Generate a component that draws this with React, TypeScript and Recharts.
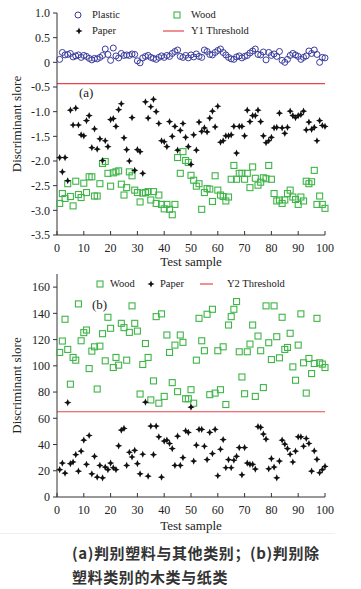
import React from 'react';
import { ScatterChart, Scatter, XAxis, YAxis, ReferenceLine, Legend } from 'recharts';

// test sample index (1..100)
const samples = [
  1, 2, 3, 4, 5, 6, 7, 8, 9, 10, 11, 12, 13, 14, 15, 16, 17, 18, 19, 20,
  21, 22, 23, 24, 25, 26, 27, 28, 29, 30, 31, 32, 33, 34, 35, 36, 37, 38, 39, 40,
  41, 42, 43, 44, 45, 46, 47, 48, 49, 50, 51, 52, 53, 54, 55, 56, 57, 58, 59, 60,
  61, 62, 63, 64, 65, 66, 67, 68, 69, 70, 71, 72, 73, 74, 75, 76, 77, 78, 79, 80,
  81, 82, 83, 84, 85, 86, 87, 88, 89, 90, 91, 92, 93, 94, 95, 96, 97, 98, 99, 100,
];

// (a) Y1 scores
const plasticY1 = [
  0.06, 0.2, 0.15, 0.16, 0.18, 0.11, 0.13, 0.15, 0.1, 0.14, 0.12, 0.08, 0.05, 0.08, 0.07, 0.1, 0.14, 0.27, 0.16, 0.04,
  0.29, 0.13, 0.09, 0.18, 0.14, 0.15, 0.14, 0.17, 0.16, 0.03, -0.01, 0.09, 0.12, 0.14, 0.1, 0.08, 0.06, 0.1, 0.13, 0.1,
  0.14, 0.12, 0.18, 0.22, 0.25, 0.12, 0.1, 0.14, 0.09, 0.15, 0.11, 0.17, 0.12, 0.1, 0.25, 0.22, 0.16, 0.15, 0.2, 0.24,
  0.27, 0.2, 0.15, 0.1, 0.07, 0.06, 0.11, 0.13, 0.09, 0.12, 0.14, 0.19, 0.23, 0.27, 0.16, 0.15, 0.21, 0.05, 0.2, 0.14,
  0.17, 0.12, 0.22, 0.04, 0.0, 0.06, 0.14, 0.18, 0.15, 0.12, 0.06, 0.1, 0.13, 0.23, 0.18, 0.25, 0.16, 0.0, 0.1, 0.09,
];
const paperY1 = [
  -1.93, -2.22, -1.93, -2.4, -0.97, -1.27, -0.93, -1.27, -1.47, -1.49, -1.18, -1.08, -1.73, -1.35, -1.76, -1.55, -1.99, -1.59, -1.71, -1.16,
  -1.14, -1.3, -0.96, -0.84, -1.53, -1.77, -2.0, -1.12, -2.19, -1.77, -1.81, -2.25, -0.8, -1.13, -0.9, -0.75, -1.0, -1.24, -1.59, -1.61,
  -1.71, -1.2, -1.5, -1.3, -1.78, -1.38, -1.24, -1.52, -1.71, -2.07, -1.47, -1.78, -1.21, -1.4, -1.33, -1.41, -1.13, -0.99, -1.31, -0.89,
  -1.62, -1.59, -1.49, -1.49, -1.47, -1.3, -1.84, -1.3, -1.3, -1.49, -0.97, -1.2, -1.08, -1.08, -0.97, -1.2, -1.49, -1.63, -1.59, -1.52,
  -1.33, -1.32, -1.03, -1.33, -1.44, -1.32, -0.99, -1.08, -1.12, -1.08, -1.06, -0.99, -1.37, -1.21, -1.36, -1.32, -1.59, -1.18, -1.28, -1.3,
];
const woodY1 = [
  -2.86, -2.66, -2.76, -2.46, -2.72, -2.91, -2.41, -2.68, -2.74, -2.45, -2.64, -2.32, -2.32, -2.71, -2.71, -2.46, -2.05, -2.01, -2.25, -2.51,
  -2.24, -2.22, -2.2, -2.47, -2.69, -2.54, -2.22, -2.3, -2.59, -2.64, -2.83, -2.65, -2.64, -2.62, -2.79, -2.62, -2.86, -2.69, -2.88, -2.97,
  -2.88, -2.98, -3.09, -2.88, -1.93, -2.25, -1.81, -1.99, -2.03, -2.29, -2.39, -2.51, -2.46, -2.98, -2.64, -2.56, -2.57, -2.82, -2.3, -2.59,
  -2.69, -2.72, -2.81, -2.73, -2.37, -2.09, -2.37, -2.25, -2.25, -2.37, -2.25, -2.54, -2.12, -2.35, -2.49, -2.43, -2.34, -2.36, -2.09, -2.37,
  -2.66, -2.81, -2.79, -2.86, -2.79, -2.66, -2.59, -2.73, -2.78, -2.88, -2.73, -2.81, -2.41, -2.46, -2.42, -2.19, -2.88, -2.71, -2.88, -2.96,
];

// (b) Y2 scores
const woodY2 = [
  110.2, 118.9, 135.5, 112.5, 86, 106.4, 104.3, 147.2, 119.1, 125.3, 127.3, 97.9, 111.2, 114.5, 82.3, 115, 124.5, 103.8, 137, 128.6,
  98.7, 106.4, 100.5, 132.4, 129.1, 104.3, 125.5, 145.7, 132.4, 126.5, 78.5, 101, 117, 106.4, 74, 88.5, 137.5, 71.5, 139.6, 76.7,
  123.5, 110.2, 87.2, 115.8, 80.3, 123.5, 117.9, 74.9, 74.9, 81.8, 71.5, 104.3, 136.2, 119.1, 111.5, 139.3, 78, 143.1, 79.2, 111.5,
  81.8, 114.5, 70.5, 131.1, 137.5, 143.1, 149, 110.7, 91.5, 78.7, 110.7, 116.6, 131.1, 76.7, 122.7, 111.5, 83.4, 145.7, 117.6, 104.8,
  145.7, 122.2, 106.1, 137, 112.5, 114, 124.8, 99.2, 89, 115.8, 139.6, 102.3, 79.2, 105.6, 94.1, 101.8, 136.2, 102.3, 101.3, 98.7,
];
const paperY2 = [
  20.8, 25.9, 18.2, 72, 25.4, 26.7, 32.3, 19.7, 34.9, 43.3, 24.9, 46.9, 17.7, 31, 15.1, 24.1, 14.6, 22.8, 20.8, 25.9,
  22.3, 20.8, 39, 51, 52.3, 24.1, 34.1, 30.5, 35.6, 25.4, 17.7, 32.6, 72.3, 15.9, 54.1, 32.3, 54.1, 45.9, 15.1, 42.6,
  43.3, 40.8, 36.9, 24.1, 46.4, 24.1, 30, 50.5, 49.2, 68.5, 27.4, 39.5, 51.5, 51.5, 38.7, 28.5, 49.2, 33.1, 51.5, 16.2,
  36.4, 43.8, 22.3, 28.5, 22.3, 28, 31, 37.7, 16.9, 37.7, 25.9, 24.9, 24.9, 21.3, 53.6, 53.1, 48, 44.1, 21.5, 29.2,
  22.8, 14.6, 27.4, 43.3, 40.3, 36.9, 32.6, 26.7, 34.9, 45.9, 45.9, 38.7, 44.6, 40.8, 19.7, 35.1, 28.7, 18.5, 20.8, 23.3,
];

const xTicks = [0, 10, 20, 30, 40, 50, 60, 70, 80, 90, 100];
const yTicksA = [-3.5, -3, -2.5, -2, -1.5, -1, -0.5, 0, 0.5, 1];
const yTicksB = [0, 20, 40, 60, 80, 100, 120, 140, 160];
const thresholdY1 = -0.43;
const thresholdY2 = 65;

const BLUE = '#3a3c9c';
const GREEN = '#3fb548';
const RED = '#e8464b';
const INK = '#222';
const SERIF = '"Liberation Serif", "Times New Roman", serif';

const toPoints = (ys: number[]) => samples.map((x, i) => ({ x, y: ys[i] }));

const CircleMark = (p: any) => <circle cx={p.cx} cy={p.cy} r={3} fill="none" stroke={BLUE} strokeWidth={1} />;
const SquareMark = (p: any) => (
  <rect x={p.cx - 3} y={p.cy - 3} width={6} height={6} fill="none" stroke={GREEN} strokeWidth={1.1} />
);
const StarMark = (p: any) => {
  const { cx, cy } = p;
  const d = `M${cx},${cy - 3.6} L${cx + 1.1},${cy - 1.1} L${cx + 3.6},${cy} L${cx + 1.1},${cy + 1.1} L${cx},${cy + 3.6} L${cx - 1.1},${cy + 1.1} L${cx - 3.6},${cy} L${cx - 1.1},${cy - 1.1} Z`;
  return <path d={d} fill="#111" />;
};

const fmtA = (v: number) => (v === 0 ? '0' : v.toFixed(1));

const tickStyle = { fill: INK, fontSize: 12, fontFamily: SERIF };

type Item = { kind: 'circle' | 'square' | 'star' | 'line'; label: string; left: number; top: number; textLeft: number };

const legendA: Item[] = [
  { kind: 'circle', label: 'Plastic', left: 78, top: 15, textLeft: 92 },
  { kind: 'square', label: 'Wood', left: 177, top: 15, textLeft: 191 },
  { kind: 'star', label: 'Paper', left: 79, top: 31, textLeft: 92 },
  { kind: 'line', label: 'Y1 Threshold', left: 173, top: 31, textLeft: 191 },
];
const legendB: Item[] = [
  { kind: 'square', label: 'Wood', left: 100, top: 14, textLeft: 110 },
  { kind: 'star', label: 'Paper', left: 151, top: 14, textLeft: 160 },
  { kind: 'line', label: 'Y2 Threshold', left: 206, top: 14, textLeft: 227 },
];

const Symbol = ({ kind, lineW }: { kind: Item['kind']; lineW: number }) => {
  if (kind === 'line') {
    return (
      <svg width={lineW} height={8} style={{ display: 'block' }}>
        <line x1={0} y1={4} x2={lineW} y2={4} stroke={RED} strokeWidth={1.2} />
      </svg>
    );
  }
  const shape =
    kind === 'circle' ? <CircleMark cx={5} cy={5} /> : kind === 'square' ? <SquareMark cx={5} cy={5} /> : <StarMark cx={5} cy={5} />;
  return (
    <svg width={10} height={10} style={{ display: 'block' }}>
      {shape}
    </svg>
  );
};

const LegendBox = ({ items, lineW }: { items: Item[]; lineW: number }) => (
  <div style={{ position: 'relative', width: 361, height: 40, fontFamily: SERIF, fontSize: 10.5, color: INK }}>
    {items.map((it) => {
      const w = it.kind === 'line' ? lineW : 10;
      return (
        <React.Fragment key={it.label}>
          <div style={{ position: 'absolute', left: it.left - w / 2, top: it.top - (it.kind === 'line' ? 4 : 5) }}>
            <Symbol kind={it.kind} lineW={lineW} />
          </div>
          <div style={{ position: 'absolute', left: it.textLeft, top: it.top - 7, lineHeight: '14px', whiteSpace: 'nowrap' }}>
            {it.label}
          </div>
        </React.Fragment>
      );
    })}
  </div>
);

const yLabel = (text: string) => ({
  value: text,
  angle: -90,
  position: 'insideLeft' as const,
  offset: 16,
  style: { textAnchor: 'middle', fill: INK, fontSize: 13, fontFamily: SERIF },
});
const xLabel = {
  value: 'Test sample',
  position: 'insideBottom' as const,
  offset: 0,
  style: { fill: INK, fontSize: 13, fontFamily: SERIF },
};

export default function App() {
  return (
    <div style={{ position: 'absolute', left: 0, top: 0, width: 361, height: 589, background: '#fff', fontFamily: SERIF }}>
      {/* (a) plastic vs others */}
      <div style={{ position: 'absolute', left: 0, top: 0 }}>
        <ScatterChart width={361} height={270} margin={{ top: 13, right: 36, bottom: 4, left: 0 }}>
          <XAxis
            type="number"
            dataKey="x"
            domain={[0, 100]}
            ticks={xTicks}
            interval={0}
            height={31}
            tickSize={-4}
            tickMargin={12}
            stroke="#333"
            tick={tickStyle}
            label={xLabel}
          />
          <YAxis
            type="number"
            dataKey="y"
            domain={[-3.5, 1]}
            ticks={yTicksA}
            interval={0}
            width={57}
            tickSize={4}
            tickMargin={3}
            stroke="#333"
            tick={tickStyle}
            tickFormatter={fmtA}
            label={yLabel('Discriminant slore')}
          />
          <ReferenceLine y={thresholdY1} stroke={RED} strokeWidth={1.2} />
          <Scatter name="Plastic" data={toPoints(plasticY1)} shape={CircleMark} isAnimationActive={false} />
          <Scatter name="Wood" data={toPoints(woodY1)} shape={SquareMark} isAnimationActive={false} />
          <Scatter name="Paper" data={toPoints(paperY1)} shape={StarMark} isAnimationActive={false} />
          <Legend
            layout="vertical"
            align="center"
            verticalAlign="middle"
            wrapperStyle={{ left: 0, top: 0, width: 361 }}
            content={() => <LegendBox items={legendA} lineW={21} />}
          />
        </ScatterChart>
        <div style={{ position: 'absolute', left: 79, top: 85, fontSize: 13, color: INK }}>(a)</div>
      </div>

      {/* (b) wood vs paper */}
      <div style={{ position: 'absolute', left: 0, top: 270 }}>
        <ScatterChart width={361} height={270} margin={{ top: 4, right: 36, bottom: 10, left: 0 }}>
          <XAxis
            type="number"
            dataKey="x"
            domain={[0, 100]}
            ticks={xTicks}
            interval={0}
            height={33}
            tickSize={-4}
            tickMargin={12}
            stroke="#333"
            tick={tickStyle}
            label={xLabel}
          />
          <YAxis
            type="number"
            dataKey="y"
            domain={[0, 170]}
            ticks={yTicksB}
            interval={0}
            width={57}
            tickSize={4}
            tickMargin={3}
            stroke="#333"
            tick={tickStyle}
            label={yLabel('Discriminant slore')}
          />
          <ReferenceLine y={thresholdY2} stroke={RED} strokeWidth={1.2} />
          <Scatter name="Wood" data={toPoints(woodY2)} shape={SquareMark} isAnimationActive={false} />
          <Scatter name="Paper" data={toPoints(paperY2)} shape={StarMark} isAnimationActive={false} />
          <Legend
            layout="vertical"
            align="center"
            verticalAlign="middle"
            wrapperStyle={{ left: 0, top: 0, width: 361 }}
            content={() => <LegendBox items={legendB} lineW={13} />}
          />
        </ScatterChart>
        <div style={{ position: 'absolute', left: 92, top: 27, fontSize: 13, color: INK }}>(b)</div>
      </div>

      <div style={{ position: 'absolute', left: 0, top: 533, width: 335, height: 1, background: '#f0f0f0' }} />
      <div
        style={{
          position: 'absolute',
          left: 72,
          top: 541,
          fontFamily: '"Noto Sans CJK SC", sans-serif',
          fontWeight: 700,
          fontSize: 15,
          letterSpacing: 0.6,
          lineHeight: '24px',
          color: '#333',
          whiteSpace: 'nowrap',
        }}
      >
        <div>(a)判别塑料与其他类别；(b)判别除</div>
        <div>塑料类别的木类与纸类</div>
      </div>
    </div>
  );
}
